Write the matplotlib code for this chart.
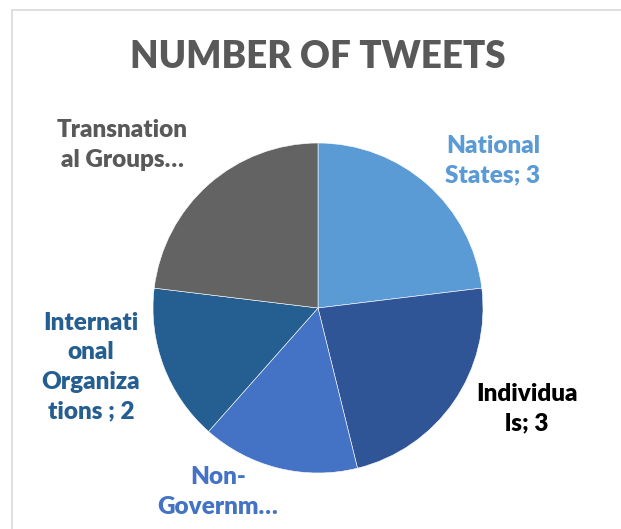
import matplotlib.pyplot as plt
from matplotlib.patches import Rectangle

# data
categories = ["National States", "Individuals", "Non-Governmental", "International Organizations", "Transnational Groups"]
values = [3, 3, 2, 2, 3]
label_texts = ["National\nStates; 3", "Individua\nls; 3", "Non-\nGovernm…",
               "Internati\nonal\nOrganiza\ntions ; 2", "Transnation\nal Groups…"]

slice_colors = ["#5B9BD5", "#2F5597", "#4472C4", "#255E91", "#636363"]
label_colors = ["#5B9BD5", "#000000", "#4472C4", "#255E91", "#595959"]
# label centres in pixels (x, y from top)
label_pos = [(493, 161), (527, 409), (218, 492), (91, 367), (122, 145)]

W, H = 621, 529
fig = plt.figure(figsize=(W / 100, H / 100), dpi=100)
fig.patch.set_facecolor("white")

# chart area border (cropped at right/bottom)
fig.add_artist(Rectangle((12 / W, -0.1), 1.2, (H - 10) / H + 0.1, transform=fig.transFigure,
                         fill=False, edgecolor="#D9D9D9", linewidth=1.2))

cx, cy, r = 318, 308, 165
ax = fig.add_axes([(cx - r) / W, (H - cy - r) / H, 2 * r / W, 2 * r / H])
ax.pie(values, colors=slice_colors, startangle=90, counterclock=False, radius=1,
       wedgeprops=dict(edgecolor="#FFFFFF", linewidth=0.4, alpha=1))
ax.set_xlim(-1, 1)
ax.set_ylim(-1, 1)
ax.set_aspect("equal")
ax.axis("off")

fig.text(cx / W, 1 - 57 / H, "NUMBER OF TWEETS", ha="center", va="center",
         fontsize=26.5, fontweight="heavy", color="#595959", family="Lato")

for txt, col, (px, py) in zip(label_texts, label_colors, label_pos):
    fig.text(px / W, 1 - py / H, txt, ha="center", va="center", fontsize=17.5,
             fontweight="heavy", color=col, family="Lato", linespacing=1.42,
             bbox=dict(facecolor="white", edgecolor="none", pad=1) if col == "#000000" else None)

fig.savefig("out.png", dpi=100, facecolor="white")
